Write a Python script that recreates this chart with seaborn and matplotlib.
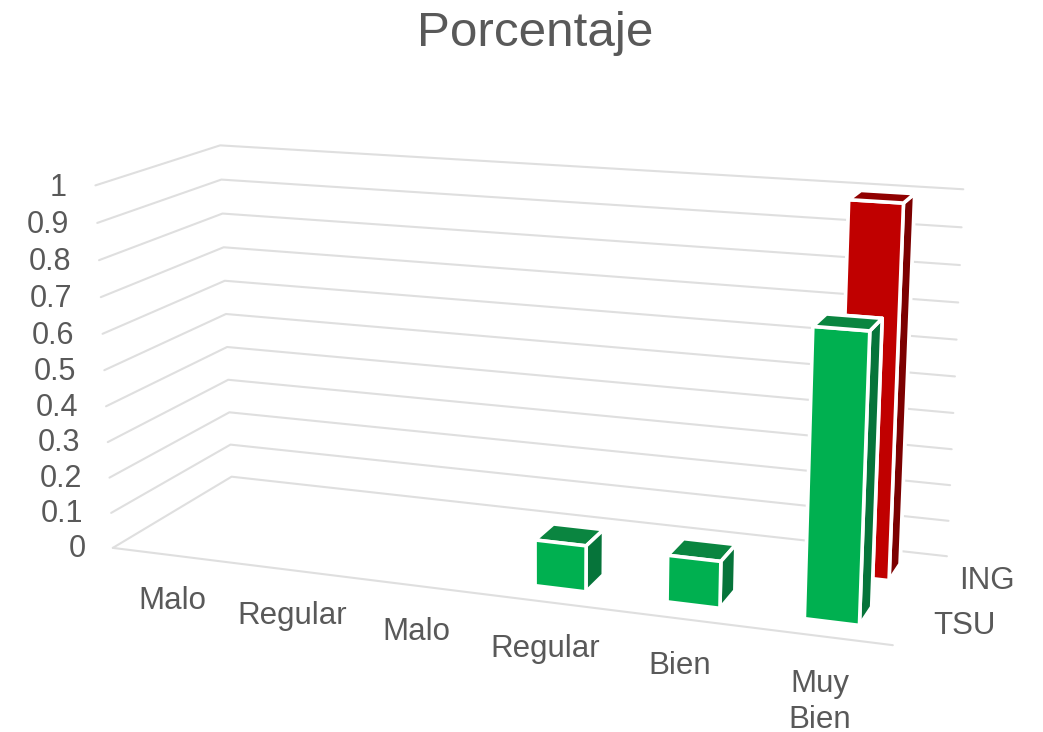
import numpy as np
import matplotlib
matplotlib.use("Agg")
import matplotlib.pyplot as plt
import seaborn as sns
from mpl_toolkits.mplot3d import proj3d

categories = ["Malo", "Regular", "Malo", "Regular", "Bien", "Muy\nBien"]
series_names = ["TSU", "ING"]
tsu_values = [0, 0, 0, 0.125, 0.125, 0.75]
ing_values = [0, 0, 0, 0, 0, 1.0]
z_ticks = [0, 0.1, 0.2, 0.3, 0.4, 0.5, 0.6, 0.7, 0.8, 0.9, 1]

sns.set_theme(style="white")
plt.rcParams['font.family'] = ['Liberation Sans', 'DejaVu Sans']
W, H = 1043, 732
fig = plt.figure(figsize=(W/100, H/100), dpi=100)
ax = fig.add_axes([0, 0, 1, 1], projection="3d", computed_zorder=False)
nx, ny = len(categories), len(series_names)
ax.set_xlim(0, nx, view_margin=0); ax.set_ylim(0, ny, view_margin=0); ax.set_zlim(0, 1, view_margin=0)
ax.set_axis_off()
ax.view_init(elev=14.5168, azim=-69.7049, roll=0.1155)
ax.set_proj_type('persp', focal_length=0.4867)
ax.set_box_aspect((2.1475, 0.7047, 1.0))

s, tx, ty = 4884.11, 526.89, 358.71
(xmin, ymin), (xmax, ymax) = ax.transLimits.inverted().transform([(0, 0), (1, 1)])
S = s*(xmax-xmin)
ax.set_position([(tx+s*xmin)/W, (ty+s*ymin)/H, S/W, S/H])
M = ax.get_proj()

grid = "#dfdfdf"
for z in z_ticks:
    ax.plot([0, 0, nx], [0, ny, ny], [z, z, z], color=grid, lw=1.5, zorder=1, clip_on=False)
ax.plot([0, nx], [0, 0], [0, 0], color=grid, lw=1.5, zorder=1, clip_on=False)

w = 0.39; d = 0.4
offset = 0.315
front = {"TSU": ("#00B050", "#0A8540", "#06743A"), "ING": ("#C00000", "#900000", "#7C0000")}
for j, (name, vals) in reversed(list(enumerate(zip(series_names, [tsu_values, ing_values])))):
    f, t, r = front[name]
    for i, v in enumerate(vals):
        if v > 0:
            ax.bar3d(i+offset, j+(1-d)/2, 0, w, d, v, color=[f, t, f, r, r, r], shade=False,
                     edgecolor="white", linewidth=2.6, zorder=5+(ny-j)+i*0.01)

ink = "#595959"
def label(x, y, z, text, **kw):
    vx, vy, _ = proj3d.proj_transform(x, y, z, M)
    ax.text2D(vx, vy, text, transform=ax.transData, color=ink, clip_on=False, **kw)

for z in z_ticks:
    label(-0.24, 0, z - 0.012, f"{z:g}", ha="right", va="center", fontsize=22)
for i, c_ in enumerate(categories):
    label(i+0.5, 0, -0.087, c_, ha="center", va="top", fontsize=22.5, linespacing=1.24)
for j, nm in enumerate(series_names):
    label(nx+0.18, j+0.5, -0.005, nm, ha="left", va="center", fontsize=22.5)
fig.text(535.5/W, 1-33/H, "Porcentaje", ha="center", va="center", fontsize=35.6, color=ink)
fig.savefig("out.png", dpi=100)
